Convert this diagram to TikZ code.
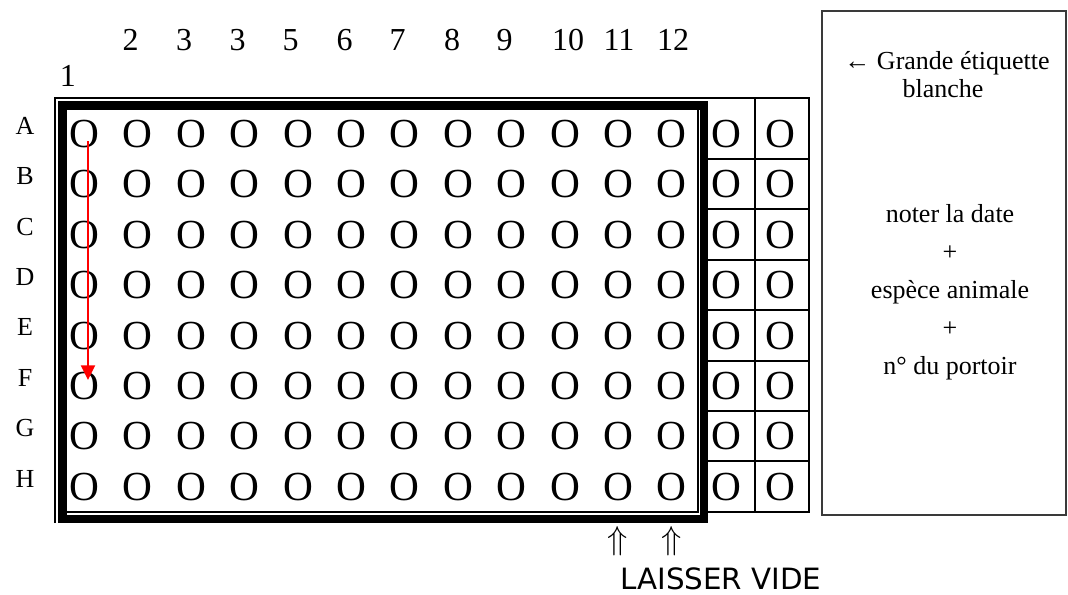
\documentclass[tikz,border=0pt]{standalone}
\usepackage{fontspec}
\setmainfont{Liberation Serif}
\newfontfamily\handfont{DejaVu Sans}
\usepackage{tikz}
\usetikzlibrary{arrows.meta,calc}
\definecolor{red1}{HTML}{FF0000}
\definecolor{gray1}{HTML}{3A3A3A}

\begin{document}
\begin{tikzpicture}[
    x=0.75pt, y=-0.75pt,
    >=Triangle,
    well/.style={anchor=base, inner sep=0pt,
                 font=\fontsize{31}{31}\selectfont},
    rowlbl/.style={anchor=base, inner sep=0pt,
                   font=\fontsize{19.5}{20}\selectfont},
    collbl/.style={anchor=base, inner sep=0pt,
                   font=\fontsize{24}{24}\selectfont},
    note/.style={anchor=base, inner sep=0pt,
                 font=\fontsize{19.5}{20}\selectfont},
    keep/.style={inner sep=0pt, font=\fontsize{27}{27}\selectfont},
    rule/.style={line width=1.5pt},
    plate/.style={line width=6.4pt},
    flow/.style={->, red1, line width=1.5pt,
                 >={Triangle[length=11pt, width=10.5pt]}},
]
\useasboundingbox (0,0) rectangle (1068,594);

% ── plate frame ──
\draw[rule] (55,523) -- (55,97.5) -- (809,97.5) -- (809,512) -- (708,512);
\draw[plate] (62.5,105.5) rectangle (704,519);
\draw[rule] (698,110) -- (698,511.5) -- (67,511.5);

% ── extra columns grid ──
\draw[rule] (755,97.5) -- (755,512);
\foreach \k in {0,...,6}
    \draw[rule] (708,159+50.4*\k) -- (809,159+50.4*\k);

% ── column numbers ──
\node[collbl] (col-1) at (68,86) {1};
\foreach \n/\x [count=\k from 2] in {2/130.5, 3/184, 3/237.5, 5/290.5,
        6/344.5, 7/397.5, 8/452, 9/504.5, 10/568, 11/619, 12/673}
    \node[collbl] (col-\k) at (\x,50) {\n};

% ── rows of wells ──
\foreach \r [count=\i from 0] in {A,...,H} {
    \node[rowlbl] (row-\r) at (25,134.3+50.4*\i) {\r};
    \foreach \c in {1,...,12}
        \node[well] (\r\c) at (84.5+53.4*\c-53.4,147.5+50.4*\i) {O};
    \node[well] (\r13) at (726,147.5+50.4*\i) {O};
    \node[well] (\r14) at (780,147.5+50.4*\i) {O};
}

% ── filling order ──
\draw[flow] ([shift={(3.5,7)}]A1.center) -- ([shift={(3.5,-6)}]F1.center);

% ── empty columns ──
\node[keep] (keep11) at (618,541) {$\Uparrow$};
\node[keep] (keep12) at (672,541) {$\Uparrow$};
\node[anchor=base, inner sep=0pt, font=\handfont\fontsize{22}{22}\selectfont]
    (vide) at (721,589) {LAISSER VIDE};

% ── label box ──
\draw[rule, gray1] (822,11) rectangle (1066,515);
\node[note] (etiq) at (947,69) {← Grande étiquette};
\node[note] (blanc) at (943,97) {blanche};
\node[note] (date) at (950,222) {noter la date};
\node[note] (plus1) at (950,260) {+};
\node[note] (espece) at (950,298) {espèce animale};
\node[note] (plus2) at (950,336) {+};
\node[note] (portoir) at (950,374) {n° du portoir};

\end{tikzpicture}
\end{document}
